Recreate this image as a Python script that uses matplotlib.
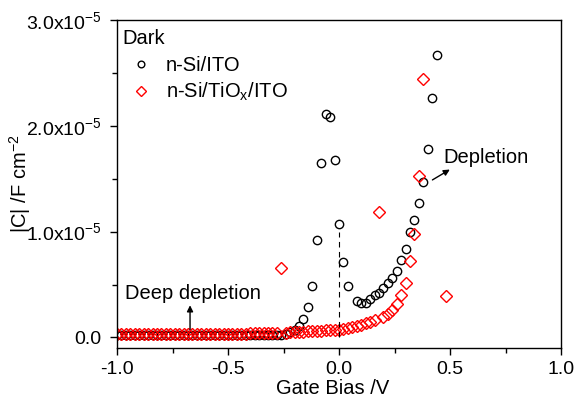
import numpy as np
import matplotlib
matplotlib.use("Agg")
import matplotlib.pyplot as plt
from matplotlib.ticker import MultipleLocator, FuncFormatter

plt.rcParams['font.family'] = ['Liberation Sans', 'DejaVu Sans']
plt.rcParams['mathtext.fontset'] = 'custom'
plt.rcParams['mathtext.rm'] = 'Liberation Sans'
plt.rcParams['mathtext.it'] = 'Liberation Sans:italic'
plt.rcParams['font.size'] = 14.5

# gate bias sweep (V), step 0.02 V
bias = np.round(np.arange(-1.0, 0.481, 0.02), 2)

# |C| in units of 1e-5 F cm^-2, n-Si/ITO (None = not shown)
c_ito = [0.02] * 37 + [
    0.025, 0.035, 0.05, 0.07, 0.11, 0.17, 0.29, 0.49, 0.92, 1.65,   # -0.26 .. -0.08
    2.11, 2.08, 1.68, 1.07, 0.71, 0.49, None, 0.34, 0.33, 0.33,    # -0.06 .. 0.12
    0.36, 0.40, 0.42, 0.47, 0.51, 0.56, 0.63, 0.73, 0.835, 1.00,   # 0.14 .. 0.32
    1.11, 1.27, 1.47, 1.78, 2.26, 2.67, None, None,                # 0.34 .. 0.48
]

# n-Si/TiOx/ITO
c_tiox = [0.035] * 30 + [
    0.04, 0.04, 0.04, 0.04, 0.04, 0.04, 0.045,                     # -0.40 .. -0.28
    0.66, 0.045, 0.05, 0.05, 0.055, 0.055, 0.06, 0.06, 0.065,      # -0.26 .. -0.10
    0.065, 0.07, 0.07, 0.07, 0.07,                                 # -0.08 .. 0.00
    0.08, 0.09, 0.10, 0.11, 0.12, 0.135, 0.15, 0.165, 1.19, 0.19,  # 0.02 .. 0.20
    0.22, 0.26, 0.32, 0.40, 0.51, 0.72, 0.98, 1.53, 2.44,          # 0.22 .. 0.38
    None, None, None, None, 0.39,                                  # 0.40 .. 0.48
]

c_ito = np.array([np.nan if v is None else v for v in c_ito], dtype=float)
c_tiox = np.array([np.nan if v is None else v for v in c_tiox], dtype=float)

fig = plt.figure(figsize=(5.77, 3.99), dpi=100)
ax = fig.add_axes([117 / 577, 1 - 348 / 399, 444 / 577, 328 / 399])

ax.plot(bias, c_ito, 'o', ms=6.0, mfc='none', mec='black', mew=1.0,
        label='n-Si/ITO')
ax.plot(bias, c_tiox, 'D', ms=6.0, mfc='none', mec='#ff0000', mew=1.0,
        label='n-Si/TiO$_\\mathregular{x}$/ITO')

ax.vlines(0, 0, 1.0, colors='black', linestyles=(0, (5, 4)), linewidth=0.8)

ax.set_xlim(-1.0, 1.0)
ax.set_ylim(-0.1, 3.0)
ax.xaxis.set_major_locator(MultipleLocator(0.5))
ax.xaxis.set_minor_locator(MultipleLocator(0.25))
ax.yaxis.set_major_locator(MultipleLocator(1.0))
ax.yaxis.set_minor_locator(MultipleLocator(0.5))
ax.xaxis.set_major_formatter(FuncFormatter(lambda v, p: '%.1f' % v))
ax.yaxis.set_major_formatter(FuncFormatter(
    lambda v, p: '0.0' if abs(v) < 1e-9 else '%.1fx10$^{\\mathregular{-5}}$' % v))
ax.tick_params(which='major', direction='out', length=5, width=1, pad=4,
               labelsize=14)
ax.tick_params(axis='y', which='major', pad=6)
ax.tick_params(which='minor', direction='out', length=3.5, width=1)
for s in ax.spines.values():
    s.set_linewidth(1)

ax.set_xlabel('Gate Bias /V')
ax.xaxis.set_label_coords(0.486, -0.095)
ax.set_ylabel('|C| /F cm$^{\\mathregular{-2}}$')
ax.yaxis.set_label_coords(-0.19, 0.5)

ax.text(0.013, 0.972, 'Dark', transform=ax.transAxes, ha='left', va='top')
ax.legend(loc='upper left', bbox_to_anchor=(0.0315, 0.89), frameon=False,
          borderpad=0, borderaxespad=0, handlelength=1.0, handletextpad=0.72,
          labelspacing=0.3, markerscale=0.8)

ax.annotate('', xy=(-0.671, 0.33), xytext=(-0.671, 0.05),
            arrowprops=dict(arrowstyle='-|>', color='black', lw=1,
                            mutation_scale=9))
ax.text(-0.964, 0.36, 'Deep depletion', ha='left', va='baseline')
ax.annotate('', xy=(0.51, 1.6), xytext=(0.41, 1.475),
            arrowprops=dict(arrowstyle='-|>', color='black', lw=1,
                            mutation_scale=9))
ax.text(0.47, 1.65, 'Depletion', ha='left', va='baseline')

fig.savefig('out.png', dpi=100)
